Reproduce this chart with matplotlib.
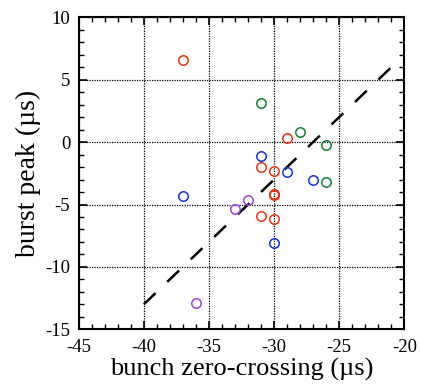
import numpy as np
import matplotlib
matplotlib.use('Agg')
import matplotlib.pyplot as plt
from matplotlib.ticker import MultipleLocator

# bunch zero-crossing vs burst peak, one colour per group
red_x = [-37, -29, -31, -30, -30, -30, -31, -30]
red_y = [6.6, 0.3, -2.0, -2.3, -4.15, -4.25, -5.9, -6.2]
green_x = [-31, -28, -26, -26]
green_y = [3.1, 0.8, -0.2, -3.2]
blue_x = [-31, -29, -27, -37, -30]
blue_y = [-1.1, -2.4, -3.0, -4.3, -8.1]
purple_x = [-32, -33, -36]
purple_y = [-4.6, -5.4, -12.9]

fit_x = [-40, -21]
fit_offset = 27  # y = x + 27

plt.rcParams['font.family'] = ['Liberation Serif', 'DejaVu Serif']
plt.rcParams['axes.unicode_minus'] = False

fig = plt.figure(figsize=(4.22, 3.85), dpi=100)
ax = fig.add_axes([78.7 / 422, 1 - 329.3 / 385, (404.3 - 78.7) / 422, (329.3 - 17.3) / 385])

ax.grid(True, which='major', color='black', linestyle=(0, (1, 1)), linewidth=0.9)
ax.set_axisbelow(True)

fx = np.array(fit_x)
ax.plot(fx, fx + fit_offset, color='black', linewidth=1.8, linestyle=(0, (6.5, 6.5)), zorder=2)

groups = [
    (red_x, red_y, '#e83010'),
    (green_x, green_y, '#108030'),
    (blue_x, blue_y, '#1030e0'),
    (purple_x, purple_y, '#a040e0'),
]
for xs, ys, c in groups:
    ax.plot(xs, ys, linestyle='none', marker='o', markersize=6.8,
            markerfacecolor='none', markeredgecolor=c, markeredgewidth=1.1, zorder=3)

ax.set_xlim(-45, -20)
ax.set_ylim(-15, 10)
ax.xaxis.set_major_locator(MultipleLocator(5))
ax.xaxis.set_minor_locator(MultipleLocator(1))
ax.yaxis.set_major_locator(MultipleLocator(5))
ax.yaxis.set_minor_locator(MultipleLocator(1))
ax.tick_params(which='both', direction='in', top=True, right=True, labelsize=13.5)
ax.tick_params(axis='x', which='both', pad=7)
ax.tick_params(axis='y', which='both', pad=6)
ax.tick_params(which='major', length=6, width=1.2)
ax.tick_params(which='minor', length=3.5, width=1.0)
for s in ax.spines.values():
    s.set_linewidth(1.5)

ax.set_xlabel('bunch zero-crossing (\u00b5s)', fontsize=19, labelpad=1)
ax.set_ylabel('burst peak (\u00b5s)', fontsize=20, labelpad=3)

fig.savefig('out.png', dpi=100)
